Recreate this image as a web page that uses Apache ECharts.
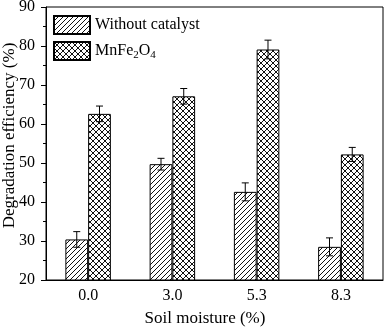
<!DOCTYPE html>
<html>
<head>
<meta charset="utf-8">
<script src="https://cdn.jsdelivr.net/npm/echarts@6/dist/echarts.min.js"></script>
<style>
    html, body { margin: 0; padding: 0; background: #fff; }
    #chart { width: 386px; height: 327px; }
</style>
</head>
<body>
<div id="chart"></div>
<script>
// Data
const moistureLabels = ['0.0', '3.0', '5.3', '8.3'];
const withoutCatalyst = [30.4, 49.7, 42.6, 28.5];
const withoutCatalystErr = [2.0, 1.5, 2.3, 2.3];
const mnFe2O4 = [62.6, 67.1, 79.1, 52.2];
const mnFe2O4Err = [2.0, 2.0, 2.4, 1.8];

const FONT = '"Liberation Serif", "Times New Roman", serif';
const BAR_FRAC = 0.27;

// Hatch patterns drawn on small canvases
function makeHatch(size, cross) {
    const c = document.createElement('canvas');
    c.width = size;
    c.height = size;
    const ctx = c.getContext('2d');
    ctx.fillStyle = '#fff';
    ctx.fillRect(0, 0, size, size);
    ctx.strokeStyle = '#111';
    ctx.lineWidth = 1;
    ctx.beginPath();
    ctx.moveTo(0, size); ctx.lineTo(size, 0);
    ctx.moveTo(-1, 1); ctx.lineTo(1, -1);
    ctx.moveTo(size - 1, size + 1); ctx.lineTo(size + 1, size - 1);
    if (cross) {
        ctx.moveTo(0, 0); ctx.lineTo(size, size);
        ctx.moveTo(-1, size - 1); ctx.lineTo(1, size + 1);
        ctx.moveTo(size - 1, -1); ctx.lineTo(size + 1, 1);
    }
    ctx.stroke();
    return c;
}

const diagPattern = { image: makeHatch(5, false), repeat: 'repeat' };
const crossPattern = { image: makeHatch(6, true), repeat: 'repeat' };

function errorData(values, errs) {
    return values.map((v, i) => [i, v, errs[i]]);
}

function errorSeries(values, errs, side) {
    return {
        type: 'custom',
        silent: true,
        z: 5,
        data: errorData(values, errs),
        renderItem: function(params, api) {
            const idx = api.value(0);
            const mean = api.value(1);
            const err = api.value(2);
            const band = api.size([1, 0])[0];
            const dx = side * band * BAR_FRAC / 2;
            const hi = api.coord([idx, mean + err]);
            const lo = api.coord([idx, mean - err]);
            const x = hi[0] + dx;
            const cap = 3.5;
            const style = { stroke: '#000', lineWidth: 1 };
            return {
                type: 'group',
                children: [
                    { type: 'line', shape: { x1: x, y1: hi[1], x2: x, y2: lo[1] }, style: style },
                    { type: 'line', shape: { x1: x - cap, y1: hi[1], x2: x + cap, y2: hi[1] }, style: style },
                    { type: 'line', shape: { x1: x - cap, y1: lo[1], x2: x + cap, y2: lo[1] }, style: style }
                ]
            };
        }
    };
}

const chart = echarts.init(document.getElementById('chart'), null, { renderer: 'canvas' });

chart.setOption({
    animation: false,
    backgroundColor: '#fff',
    grid: {
        left: 46, right: 3, top: 7, bottom: 47,
        outerBoundsMode: 'none',
        containLabel: false,
        show: true, borderColor: '#000', borderWidth: 1
    },
    legend: {
        left: 53, top: 15,
        padding: 0,
        orient: 'vertical',
        icon: 'rect',
        itemWidth: 36, itemHeight: 18, itemGap: 6,
        textStyle: {
            fontFamily: FONT, fontSize: 16, color: '#000',
            rich: {
                a: { fontFamily: FONT, fontSize: 16, color: '#000' },
                s: { fontFamily: FONT, fontSize: 11, color: '#000', verticalAlign: 'bottom', padding: [8, 0, 0, 0] }
            }
        },
        formatter: function(name) {
            if (name === 'MnFe2O4') return '{a|MnFe}{s|2}{a|O}{s|4}';
            return name;
        },
        data: ['Without catalyst', 'MnFe2O4']
    },
    xAxis: {
        type: 'category',
        data: moistureLabels,
        name: 'Soil moisture (%)',
        nameLocation: 'middle',
        nameMoveOverlap: false,
        nameGap: 30,
        nameTextStyle: { fontFamily: FONT, fontSize: 17, color: '#000', padding: [0, 19, 0, 0] },
        axisLine: { lineStyle: { color: '#000', width: 1 } },
        axisTick: { alignWithLabel: true, length: 5, lineStyle: { color: '#000' } },
        axisLabel: { fontFamily: FONT, fontSize: 16, color: '#000', margin: 8 }
    },
    yAxis: {
        type: 'value',
        min: 20, max: 90, interval: 10,
        name: 'Degradation efficiency (%)',
        nameLocation: 'middle',
        nameMoveOverlap: false,
        nameGap: 28,
        nameTextStyle: { fontFamily: FONT, fontSize: 17, color: '#000', padding: [0, 0, 0, 16] },
        axisLine: { show: true, lineStyle: { color: '#000', width: 1 } },
        axisTick: { show: true, length: 5, lineStyle: { color: '#000' } },
        minorTick: { show: true, splitNumber: 2, length: 3, lineStyle: { color: '#000' } },
        splitLine: { show: false },
        axisLabel: { fontFamily: FONT, fontSize: 16, color: '#000', margin: 11 }
    },
    series: [
        {
            name: 'Without catalyst',
            type: 'bar',
            data: withoutCatalyst,
            barWidth: (BAR_FRAC * 100) + '%',
            barGap: '0%',
            itemStyle: { color: diagPattern, borderColor: '#000', borderWidth: 1 }
        },
        {
            name: 'MnFe2O4',
            type: 'bar',
            data: mnFe2O4,
            barWidth: (BAR_FRAC * 100) + '%',
            barGap: '0%',
            itemStyle: { color: crossPattern, borderColor: '#000', borderWidth: 1 }
        },
        errorSeries(withoutCatalyst, withoutCatalystErr, -1),
        errorSeries(mnFe2O4, mnFe2O4Err, 1)
    ]
});
</script>
</body>
</html>
